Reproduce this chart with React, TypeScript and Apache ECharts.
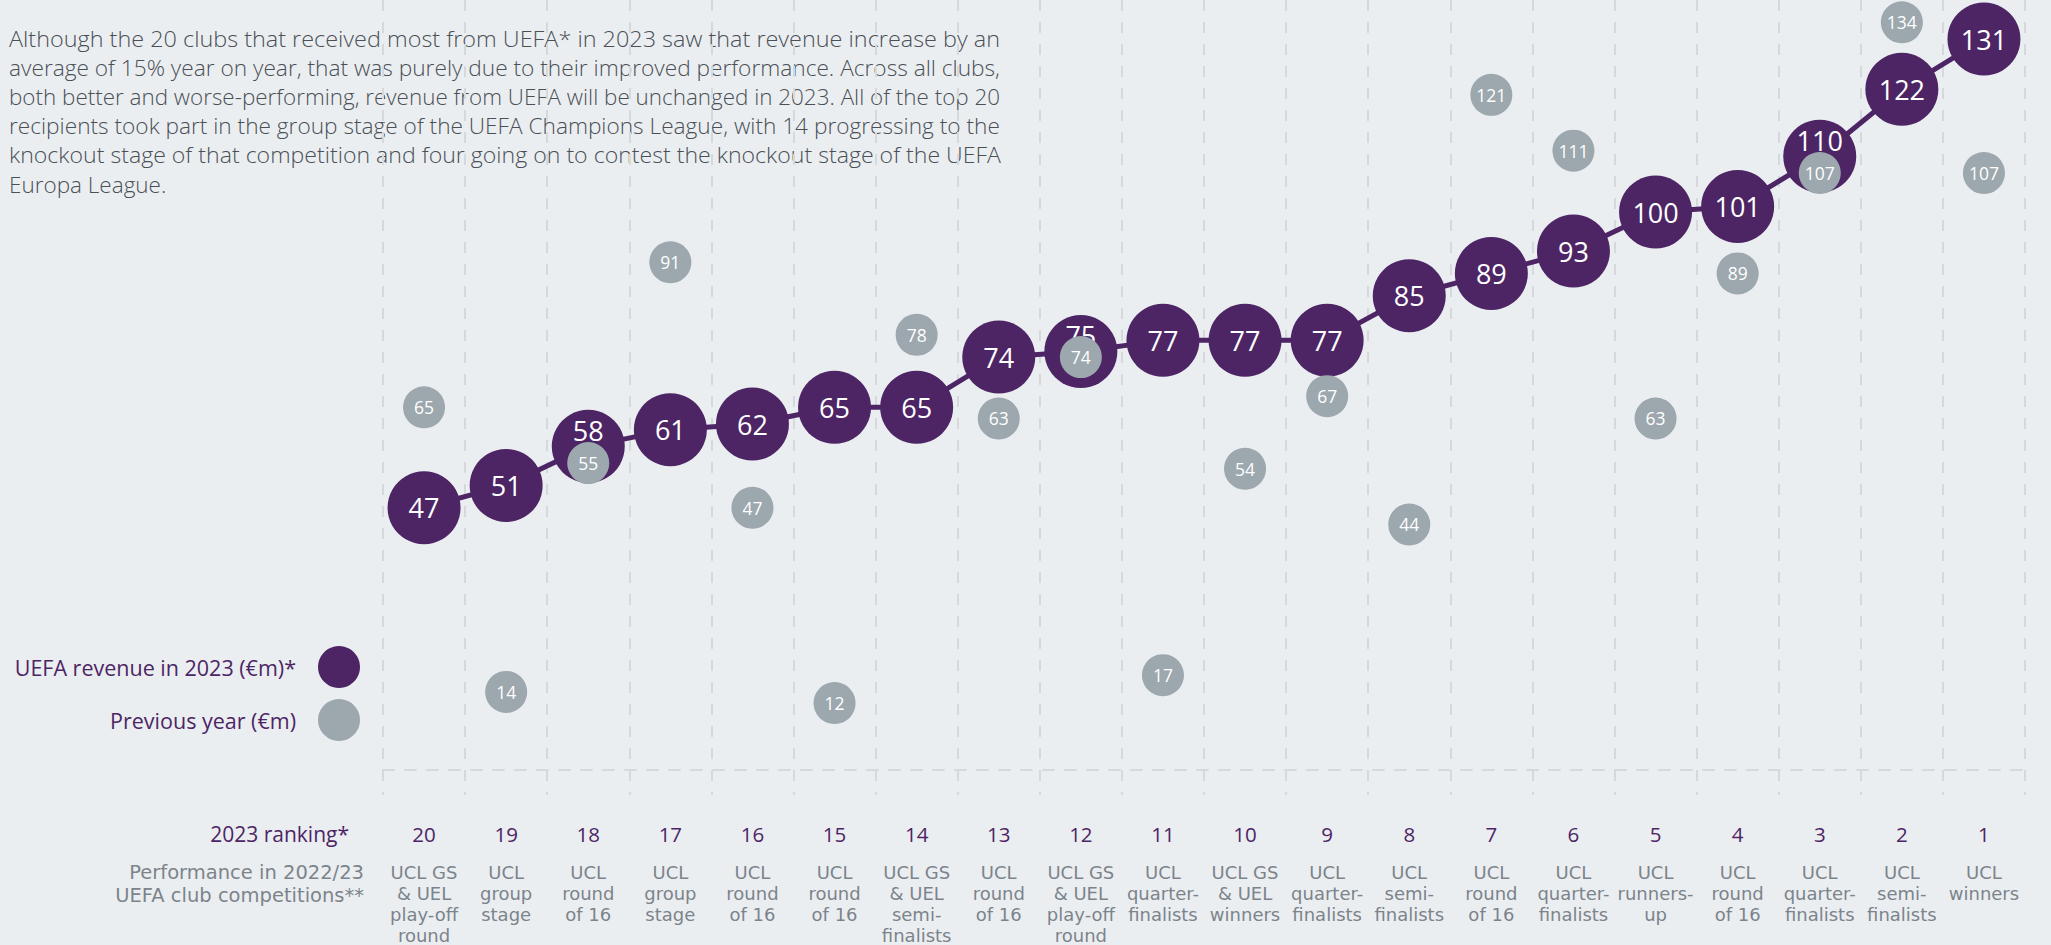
import React, { useEffect, useRef } from "react";
import * as echarts from "echarts";

const rankings = ["20", "19", "18", "17", "16", "15", "14", "13", "12", "11", "10", "9", "8", "7", "6", "5", "4", "3", "2", "1"];
const performance = [
  "UCL GS\n& UEL\nplay-off\nround",
  "UCL\ngroup\nstage",
  "UCL\nround\nof 16",
  "UCL\ngroup\nstage",
  "UCL\nround\nof 16",
  "UCL\nround\nof 16",
  "UCL GS\n& UEL\nsemi-\nfinalists",
  "UCL\nround\nof 16",
  "UCL GS\n& UEL\nplay-off\nround",
  "UCL\nquarter-\nfinalists",
  "UCL GS\n& UEL\nwinners",
  "UCL\nquarter-\nfinalists",
  "UCL\nsemi-\nfinalists",
  "UCL\nround\nof 16",
  "UCL\nquarter-\nfinalists",
  "UCL\nrunners-\nup",
  "UCL\nround\nof 16",
  "UCL\nquarter-\nfinalists",
  "UCL\nsemi-\nfinalists",
  "UCL\nwinners",
];
const revenue2023 = [47, 51, 58, 61, 62, 65, 65, 74, 75, 77, 77, 77, 85, 89, 93, 100, 101, 110, 122, 131];
const previousYear = [65, 14, 55, 91, 47, 12, 78, 63, 74, 17, 54, 67, 44, 121, 111, 63, 89, 107, 134, 107];

const introLines = [
  "Although the 20 clubs that received most from UEFA* in 2023 saw that revenue increase by an",
  "average of 15% year on year, that was purely due to their improved performance. Across all clubs,",
  "both better and worse-performing, revenue from UEFA will be unchanged in 2023. All of the top 20",
  "recipients took part in the group stage of the UEFA Champions League, with 14 progressing to the",
  "knockout stage of that competition and four going on to contest the knockout stage of the UEFA",
  "Europa League.",
];

const SERIES_NOW = "UEFA revenue in 2023 (€m)*";
const SERIES_PREV = "Previous year (€m)";

const PURPLE = "#4d2565";
const GRAY = "#9ca7ae";
const BG = "#ebeef1";
const GRID = "#d6d9dc";
const TEXT_GRAY = "#7c848b";
const FONT = "'Open Sans', 'Noto Sans', sans-serif";
const TIGHT_FONT = "'DejaVu Sans', Roboto, sans-serif";

const INTRO_SIZE = 22.5;
const INTRO_LEFT = 9;
const INTRO_WIDTH = 992;

function measure(text: string, font: string): number {
  const c = document.createElement("canvas");
  const ctx = c.getContext("2d");
  if (!ctx) return INTRO_WIDTH;
  ctx.font = font;
  return ctx.measureText(text).width;
}

export default function App() {
  const ref = useRef<HTMLDivElement>(null);

  useEffect(() => {
    if (!ref.current) return;
    const chart = echarts.init(ref.current, undefined, { renderer: "svg", width: 2051, height: 945 });
    const dash = [11, 11];
    const introFont = `300 ${INTRO_SIZE}px ${FONT}`;
    const introGraphics = introLines.map((line, i) => {
      const w = measure(line, introFont);
      let sx = i < introLines.length - 1 ? INTRO_WIDTH / w : 1;
      if (!isFinite(sx) || sx < 0.85 || sx > 1.15) sx = 1;
      return {
        type: "text",
        x: INTRO_LEFT,
        y: 38 + i * 29.2,
        scaleX: sx,
        style: {
          text: line,
          fill: "#4a5056",
          fontSize: INTRO_SIZE,
          fontFamily: FONT,
          fontWeight: 300,
          textVerticalAlign: "middle",
        },
      };
    });
    chart.setOption({
      animation: false,
      backgroundColor: BG,
      textStyle: { fontFamily: FONT },
      grid: { left: 383, width: 1642, top: 0, height: 770, containLabel: false, outerBoundsMode: "none" },
      legend: {
        orient: "vertical",
        align: "right",
        right: 1686,
        top: 641,
        itemWidth: 42,
        itemHeight: 42,
        itemGap: 11,
        selectedMode: false,
        textStyle: { color: PURPLE, fontSize: 21.5, fontFamily: FONT, padding: [0, 17, 0, 0] },
        data: [
          { name: SERIES_NOW, icon: "circle", itemStyle: { color: PURPLE } },
          { name: SERIES_PREV, icon: "circle", itemStyle: { color: GRAY } },
        ],
      },
      xAxis: [
        {
          type: "category",
          data: rankings,
          boundaryGap: true,
          position: "bottom",
          axisLine: { show: true, lineStyle: { color: GRID, width: 2, type: dash } },
          axisTick: { show: true, length: 25, interval: 0, lineStyle: { color: GRID, width: 2, type: dash } },
          splitLine: { show: true, interval: 0, lineStyle: { color: GRID, width: 2, type: dash } },
          axisLabel: { interval: 0, margin: 53, color: PURPLE, fontSize: 20.5, fontFamily: FONT },
        },
        {
          type: "category",
          data: performance,
          boundaryGap: true,
          position: "bottom",
          offset: 0,
          axisLine: { show: false },
          axisTick: { show: false },
          splitLine: { show: false },
          axisLabel: {
            interval: 0,
            margin: 92,
            color: TEXT_GRAY,
            fontSize: 18,
            lineHeight: 21,
            fontFamily: TIGHT_FONT,
            verticalAlign: "top",
          },
        },
      ],
      yAxis: {
        type: "value",
        min: 0,
        max: 138,
        show: false,
        splitLine: { show: false },
      },
      graphic: [
        ...introGraphics,
        {
          type: "text",
          x: 349,
          y: 834,
          style: {
            text: "2023 ranking*",
            fill: PURPLE,
            fontSize: 21,
            fontFamily: FONT,
            textAlign: "right",
            textVerticalAlign: "middle",
          },
        },
        {
          type: "text",
          x: 364,
          y: 861,
          style: {
            text: "Performance in 2022/23\nUEFA club competitions**",
            fill: TEXT_GRAY,
            fontSize: 19.5,
            lineHeight: 23,
            fontFamily: TIGHT_FONT,
            textAlign: "right",
            textVerticalAlign: "top",
          },
        },
      ],
      series: [
        {
          name: SERIES_NOW,
          type: "line",
          xAxisIndex: 0,
          data: revenue2023.map((v, i) => ({
            value: v,
            label: { offset: Math.abs(previousYear[i] - v) <= 5 ? [0, -16] : [0, 0] },
          })),
          symbol: "circle",
          symbolSize: 73,
          showAllSymbol: true,
          clip: false,
          z: 2,
          lineStyle: { color: PURPLE, width: 5 },
          itemStyle: { color: PURPLE, borderWidth: 0 },
          label: {
            show: true,
            position: "inside",
            color: "#ffffff",
            fontSize: 27,
            fontFamily: FONT,
          },
          emphasis: { disabled: true },
        },
        {
          name: SERIES_PREV,
          type: "scatter",
          xAxisIndex: 0,
          data: previousYear,
          symbol: "circle",
          symbolSize: 42,
          clip: false,
          z: 3,
          itemStyle: { color: GRAY, opacity: 1 },
          label: {
            show: true,
            position: "inside",
            color: "#ffffff",
            fontSize: 17.5,
            fontFamily: FONT,
          },
          emphasis: { disabled: true },
        },
      ],
    });
    return () => chart.dispose();
  }, []);

  return (
    <div
      ref={ref}
      style={{ position: "fixed", left: 0, top: 0, width: 2051, height: 945, background: BG }}
    />
  );
}
